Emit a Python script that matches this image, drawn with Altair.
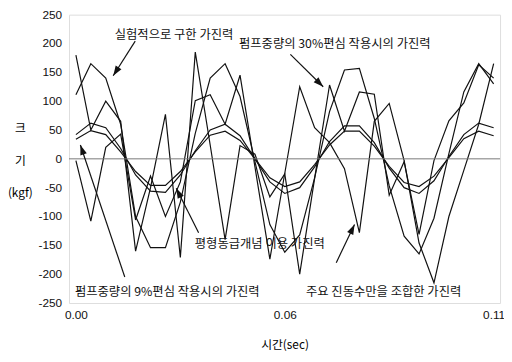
import math
import altair as alt
import pandas as pd

# x categories: sample times (s)
time_s = [round(i * 0.004, 3) for i in range(29)]

series_names = [
    "실험적으로 구한 가진력",
    "펌프중량의 30%편심 작용시의 가진력",
    "평형동급개념 이용 가진력",
    "펌프중량의 9%편심 작용시의 가진력",
    "주요 진동수만을 조합한 가진력",
]

experimental = [180, 50, 100, 65, -160, -50, 77, -171, 185, 24, -140, 23, 8, -66, -26,
                -200, -34, 128, 48, 116, 112, -63, -5, -131, -3, 66, 97, 163, 140]
ecc30 = [111, 165, 140, 60, -100, -154, -154, -75, 44, 140, 165, 108, -5, -114, -162,
         -132, -33, 82, 154, 157, 70, -47, -134, -165, -103, 9, 116, 165, 130]
balanced = [42, 62, 54, 18, -28, -56, -58, -28, 14, 50, 60, 40, 0, -40, -60,
            -50, -14, 30, 57, 57, 28, -16, -50, -60, -38, 4, 42, 62, 54]
ecc9 = [34, 49, 42, 12, -22, -46, -46, -22, 12, 41, 48, 32, 0, -33, -48,
        -40, -10, 24, 48, 48, 22, -13, -41, -48, -30, 2, 35, 48, 40]
combined = [-3, -108, 20, 43, -106, -30, -100, -40, 101, 111, 60, 145, -14, -174, -25,
            125, 54, 28, -17, -128, 65, 96, -3, -146, -215, -100, -20, 60, 165]

y_ticks = [-250, -200, -150, -100, -50, 0, 50, 100, 150, 200, 250]

all_series = [experimental, ecc30, balanced, ecc9, combined]

rows = []
for name, vals in zip(series_names, all_series):
    for t, v in zip(time_s, vals):
        rows.append({"series": name, "t": t, "v": v})
df = pd.DataFrame(rows)

# annotations (data units): label centre, arrow tail, arrow head
ann_label = [
    "실험적으로 구한 가진력",
    "펌프중량의 30%편심 작용시의 가진력",
    "주요 진동수만을 조합한 가진력",
    "펌프중량의 9%편심 작용시의 가진력",
    "평형동급개념 이용 가진력",
]
ann_tx = [0.0263, 0.0694, 0.0825, 0.0245, 0.0493]
ann_ty = [215, 199, -231, -231, -148]
arr_t0 = [0.0159, 0.0575, 0.0698, 0.0131, 0.0329]
arr_v0 = [204, 181, -180, -205, -128]
arr_t1 = [0.0100, 0.0663, 0.0747, 0.0012, 0.0269]
arr_v1 = [144, 125, -114, 24, -51]

W, H = 438, 293
XDOM = [-0.00185, 0.11372]
YDOM = [-250, 250]
sx = W / (XDOM[1] - XDOM[0])
sy = H / (YDOM[1] - YDOM[0])

angles = []
for a, b, c, d in zip(arr_t0, arr_v0, arr_t1, arr_v1):
    dx = (c - a) * sx
    dy = -(d - b) * sy
    angles.append(math.degrees(math.atan2(dx, -dy)) % 360)

ann_df = pd.DataFrame({"label": ann_label, "t": ann_tx, "v": ann_ty})
arr_df = pd.DataFrame({"t": arr_t0, "v": arr_v0, "t2": arr_t1, "v2": arr_v1, "ang": angles})
head_df = pd.DataFrame({"t": arr_t1, "v": arr_v1, "ang": angles})
ytick_df = pd.DataFrame({"v": y_ticks,
                         "lab": [("-" + str(abs(k))) if k < 0 else str(k) for k in y_ticks]})

NUMFONT = "Liberation Sans"
KFONT = "Noto Sans CJK KR"
INK = "#111111"

xs = alt.Scale(domain=XDOM, nice=False, zero=False)
ys = alt.Scale(domain=YDOM, nice=False, zero=False)

lines = alt.Chart(df).mark_line(color=INK, strokeWidth=1.2).encode(
    x=alt.X("t:Q", scale=xs,
            axis=alt.Axis(values=[0, 0.056, 0.112], format=".2f", title="시간(sec)",
                          grid=False, ticks=False, domain=False,
                          labelFont=NUMFONT, labelFontSize=12, labelColor=INK,
                          labelPadding=7, labelFlush=False, labelOverlap=False,
                          titleFont=KFONT, titleFontSize=12, titleFontWeight="normal",
                          titleColor="#000000", titleBaseline="middle", titleY=42)),
    y=alt.Y("v:Q", scale=ys,
            axis=alt.Axis(values=y_ticks, title=["크", "기", "(kgf)"],
                          grid=False, ticks=False, tickSize=0, domain=False,
                          labels=False,
                          titleFont=KFONT, titleFontSize=12, titleFontWeight="normal",
                          titleColor="#000000", titleAngle=0, titleAlign="center",
                          titleBaseline="middle", titleX=-50, titleY=115,
                          titleLineHeight=33)),
    detail="series:N",
)

# y tick labels drawn as text just left of the plot frame
ylabels = alt.Chart(ytick_df).mark_text(
    font=NUMFONT, fontSize=12, color=INK, align="right", baseline="middle", dx=-7
).encode(
    x=alt.value(0),
    y=alt.Y("v:Q", scale=ys),
    text="lab:N",
)

zero = alt.Chart(pd.DataFrame({"v": [0]})).mark_rule(color="#777777", strokeWidth=1).encode(
    y=alt.Y("v:Q", scale=ys)
)

texts = alt.Chart(ann_df).mark_text(font=KFONT, fontSize=12.5, color=INK).encode(
    x=alt.X("t:Q", scale=xs),
    y=alt.Y("v:Q", scale=ys),
    text="label:N",
)

shafts = alt.Chart(arr_df).mark_rule(color=INK, strokeWidth=1.2).encode(
    x=alt.X("t:Q", scale=xs),
    y=alt.Y("v:Q", scale=ys),
    x2="t2:Q",
    y2="v2:Q",
)

heads = alt.Chart(head_df).mark_point(
    shape="M0,0 L0.75,2.2 L-0.75,2.2 Z", size=85, filled=True, color=INK, opacity=1
).encode(
    x=alt.X("t:Q", scale=xs),
    y=alt.Y("v:Q", scale=ys),
    angle=alt.Angle("ang:Q", scale=None),
)

chart = alt.layer(lines, zero, shafts, heads, texts, ylabels).properties(
    width=W, height=H,
    autosize=alt.AutoSizeParams(type="none"),
    padding={"left": 62, "top": 4, "right": 4, "bottom": 46},
).configure_view(stroke="#222222", strokeWidth=1).configure(background="white")

chart.save("out.html", embed_options={"renderer": "svg", "actions": False})
